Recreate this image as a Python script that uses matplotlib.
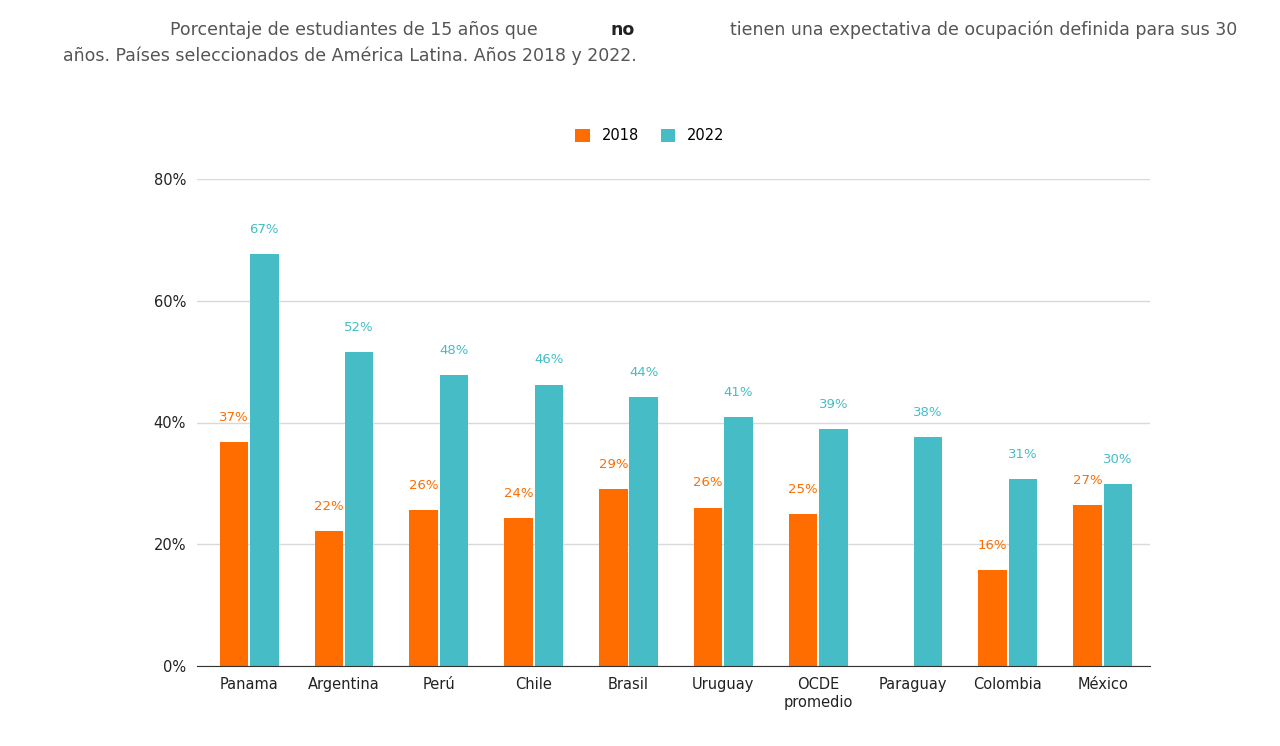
import numpy as np
import matplotlib.pyplot as plt

paises = ["Panama", "Argentina", "Perú", "Chile", "Brasil", "Uruguay",
          "OCDE\npromedio", "Paraguay", "Colombia", "México"]
v2018 = [36.8, 22.2, 25.6, 24.3, 29.1, 26.0, 25.0, np.nan, 15.8, 26.4]
v2022 = [67.7, 51.6, 47.8, 46.2, 44.2, 40.9, 38.9, 37.6, 30.7, 29.9]
lab2018 = ["37%", "22%", "26%", "24%", "29%", "26%", "25%", "", "16%", "27%"]
lab2022 = ["67%", "52%", "48%", "46%", "44%", "41%", "39%", "38%", "31%", "30%"]

c18 = "#FF6D00"
c22 = "#46BDC6"

fig = plt.figure(figsize=(12.8, 7.46), dpi=100)
ax = fig.add_axes([197/1280, 1-666/746, (1150-197)/1280, (666-179)/746])

x = np.arange(len(paises))
w = 0.3
ax.bar(x - 0.16, v2018, w, color=c18, label="2018")
ax.bar(x + 0.16, v2022, w, color=c22, label="2022")
for i in range(len(paises)):
    if not np.isnan(v2018[i]):
        ax.text(x[i] - 0.16, v2018[i] + 3, lab2018[i], ha="center", va="bottom", fontsize=9.5, color=c18)
    ax.text(x[i] + 0.16, v2022[i] + 3, lab2022[i], ha="center", va="bottom", fontsize=9.5, color=c22)

ax.set_ylim(0, 80)
ax.set_xlim(-0.55, len(paises) - 0.5)
ax.set_yticks([0, 20, 40, 60, 80])
ax.set_yticklabels(["0%", "20%", "40%", "60%", "80%"], fontsize=10.5, color="#222")
ax.set_xticks(x)
ax.set_xticklabels(paises, fontsize=10.5, color="#222")
ax.tick_params(length=0, pad=8)
ax.grid(axis="y", color="#d9d9d9", lw=1)
ax.set_axisbelow(True)
for s in ["top", "right", "left"]:
    ax.spines[s].set_visible(False)
ax.spines["bottom"].set_color("#333")

fig.legend(loc="center", bbox_to_anchor=(650/1280, 1-136/746), ncol=2, frameon=False,
           fontsize=10.5, handlelength=1, handleheight=1, columnspacing=1.5)

tc = "#555555"
fig.text(170/1280, 1-30/746, "Porcentaje de estudiantes de 15 años que ", fontsize=12.5, color=tc, va="center")
fig.text(611/1280, 1-30/746, "no", fontsize=12.5, color="#222", weight="bold", va="center")
fig.text(1237/1280, 1-30/746, "tienen una expectativa de ocupación definida para sus 30",
         fontsize=12.5, color=tc, va="center", ha="right")
fig.text(63/1280, 1-56/746, "años. Países seleccionados de América Latina. Años 2018 y 2022.",
         fontsize=12.5, color=tc, va="center")

fig.savefig("out.png")
